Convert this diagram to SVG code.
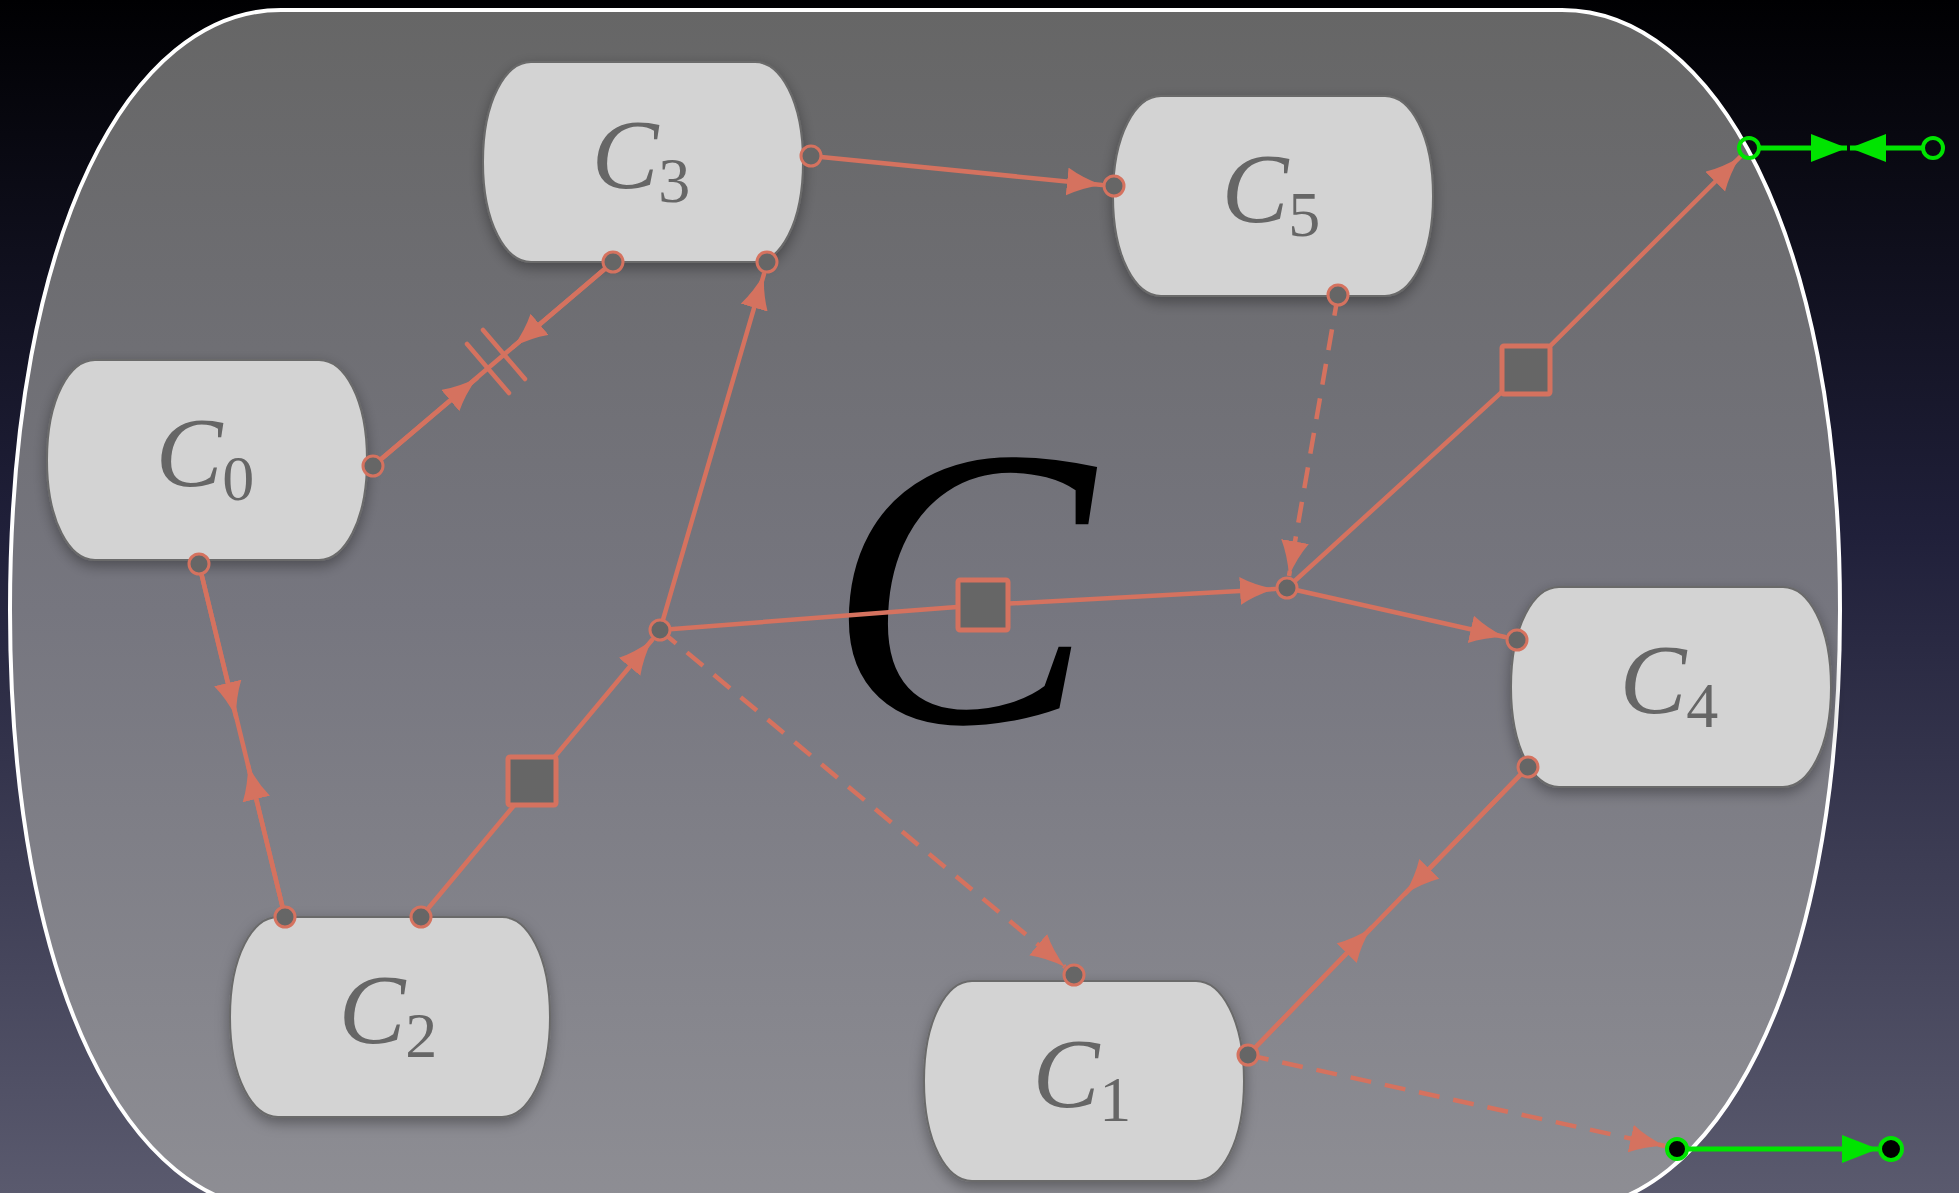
<svg xmlns="http://www.w3.org/2000/svg" xmlns:xlink="http://www.w3.org/1999/xlink" width="1959" height="1193" viewBox="0 0 1959 1193">
  <defs>
    <linearGradient id="bg" x1="0" y1="0" x2="0" y2="1">
      <stop offset="0" stop-color="#000002"/>
      <stop offset="0.45" stop-color="#20203a"/>
      <stop offset="1" stop-color="#5a5a6e"/>
    </linearGradient>
    <linearGradient id="frameFill" x1="0" y1="0" x2="0" y2="1">
      <stop offset="0" stop-color="#666666"/>
      <stop offset="0.5" stop-color="#76767f"/>
      <stop offset="1" stop-color="#8e8e94"/>
    </linearGradient>
    <filter id="shadow" x="-20%" y="-20%" width="140%" height="150%">
      <feDropShadow dx="0" dy="5" stdDeviation="7" flood-color="#000" flood-opacity="0.35"/>
    </filter>
    <!-- capsule-like component shape, centred on the origin -->
    <path id="cap" d="M-112,-100 H112 C137,-100 160,-62 160,0 C160,62 137,100 112,100 H-112 C-137,100 -160,62 -160,0 C-160,-62 -137,-100 -112,-100 Z"/>
    <marker id="ah" markerWidth="38" markerHeight="30" refX="35" refY="14" orient="auto" markerUnits="userSpaceOnUse">
      <path d="M0,0 Q15,9 35,14 Q15,19 0,28 Z" fill="#d5725f"/>
    </marker>
    <marker id="gh" markerWidth="38" markerHeight="30" refX="36" refY="14" orient="auto" markerUnits="userSpaceOnUse">
      <path d="M0,0 L36,14 L0,28 Z" fill="#00e400"/>
    </marker>
  </defs>
  <style>
    .node use { fill: #d3d3d3; stroke: #6a6a6a; stroke-width: 2; filter: url(#shadow); }
    .lbl { font-family: "Liberation Serif", "DejaVu Serif", serif; fill: #666666; font-size: 100px; }
    .lbl .c { font-style: italic; }
    .lbl .s { font-size: 64px; }
    .edge { fill: none; stroke: #d5725f; stroke-width: 4.5; stroke-linecap: round; }
    .dash { stroke-dasharray: 21 14; stroke-linecap: butt; }
    .arr { marker-end: url(#ah); }
    .port { fill: #666666; stroke: #d5725f; stroke-width: 3; }
    .sq { fill: #666666; stroke: #d5725f; stroke-width: 5; }
    .term { fill: none; stroke: #00e400; stroke-width: 4; }
    .gline { stroke: #00e400; stroke-width: 5; fill: none; marker-end: url(#gh); }
  </style>

  <rect width="1959" height="1193" fill="url(#bg)"/>

  <!-- enclosing composite C -->
  <g id="composite">
    <path d="M281,10 H1562 C1712,10 1840,230 1840,610 C1840,990 1712,1210 1562,1210 H281 C131,1210 10,990 10,610 C10,230 131,10 281,10 Z" fill="url(#frameFill)" stroke="#ffffff" stroke-width="4"/>
    <text x="960" y="722" text-anchor="middle" font-family="Liberation Serif, DejaVu Serif, serif" font-style="italic" font-size="400" fill="#000000">C</text>
  </g>

  <!-- components -->
  <g id="C3" class="node"><use href="#cap" x="643" y="162"/><text class="lbl" x="641" y="188" text-anchor="middle"><tspan class="c">C</tspan><tspan class="s" dy="14">3</tspan></text></g>
  <g id="C5" class="node"><use href="#cap" x="1273" y="196"/><text class="lbl" x="1271" y="222" text-anchor="middle"><tspan class="c">C</tspan><tspan class="s" dy="14">5</tspan></text></g>
  <g id="C0" class="node"><use href="#cap" x="207" y="460"/><text class="lbl" x="205" y="486" text-anchor="middle"><tspan class="c">C</tspan><tspan class="s" dy="14">0</tspan></text></g>
  <g id="C4" class="node"><use href="#cap" x="1671" y="687"/><text class="lbl" x="1669" y="713" text-anchor="middle"><tspan class="c">C</tspan><tspan class="s" dy="14">4</tspan></text></g>
  <g id="C2" class="node"><use href="#cap" x="390" y="1017"/><text class="lbl" x="388" y="1043" text-anchor="middle"><tspan class="c">C</tspan><tspan class="s" dy="14">2</tspan></text></g>
  <g id="C1" class="node"><use href="#cap" x="1084" y="1081"/><text class="lbl" x="1082" y="1107" text-anchor="middle"><tspan class="c">C</tspan><tspan class="s" dy="14">1</tspan></text></g>

  <!-- connectors -->
  <g id="connectors">
    <path class="edge arr" d="M811,156 L1102,185"/>
    <!-- C0 <-> C3 with break marks -->
    <path class="edge" d="M373,466 L613,262"/>
    <path class="edge arr" d="M373,466 L477,378"/>
    <path class="edge arr" d="M613,262 L513,347"/>
    <path class="edge" d="M467,344 L509,393 M483,330 L525,379"/>
    <!-- C0 <-> C2 -->
    <path class="edge" d="M199,564 L285,917"/>
    <path class="edge arr" d="M199,564 L236,717"/>
    <path class="edge arr" d="M285,917 L248,765"/>
    <!-- C4 <-> C1 -->
    <path class="edge" d="M1528,767 L1248,1055"/>
    <path class="edge arr" d="M1528,767 L1405,894"/>
    <path class="edge arr" d="M1248,1055 L1371,928"/>
    <path class="edge arr" d="M421,917 L652,640"/>
    <path class="edge arr" d="M660,630 L764,274"/>
    <path class="edge arr" d="M660,630 L983,605 L1275,589"/>
    <path class="edge dash arr" d="M660,630 L1065,967"/>
    <path class="edge dash arr" d="M1338,295 L1289,576"/>
    <path class="edge arr" d="M1287,588 L1505,637"/>
    <path class="edge arr" d="M1287,588 L1526,370 L1740,157"/>
    <path class="edge dash arr" d="M1248,1055 L1665,1146"/>
    <!-- external terminals -->
    <path class="gline" d="M1759,148 L1847,148"/>
    <path class="gline" d="M1923,148 L1850,148"/>
    <path class="gline" d="M1688,1149 L1878,1149"/>
  </g>

  <!-- relay boxes on connectors -->
  <g id="relays">
    <rect class="sq" x="958" y="580" width="50" height="50" rx="2"/>
    <rect class="sq" x="508" y="757" width="48" height="48" rx="2"/>
    <rect class="sq" x="1502" y="346" width="48" height="48" rx="2"/>
  </g>

  <!-- ports and junctions -->
  <g id="ports">
    <circle class="port" cx="811" cy="156" r="10"/>
    <circle class="port" cx="613" cy="262" r="10"/>
    <circle class="port" cx="767" cy="262" r="10"/>
    <circle class="port" cx="1114" cy="186" r="10"/>
    <circle class="port" cx="1338" cy="295" r="10"/>
    <circle class="port" cx="373" cy="466" r="10"/>
    <circle class="port" cx="199" cy="564" r="10"/>
    <circle class="port" cx="1517" cy="640" r="10"/>
    <circle class="port" cx="1528" cy="767" r="10"/>
    <circle class="port" cx="285" cy="917" r="10"/>
    <circle class="port" cx="421" cy="917" r="10"/>
    <circle class="port" cx="1074" cy="975" r="10"/>
    <circle class="port" cx="1248" cy="1055" r="10"/>
  </g>
  <g id="J1"><circle class="port" cx="660" cy="630" r="10"/></g>
  <g id="J2"><circle class="port" cx="1287" cy="588" r="10"/></g>

  <g id="terminals">
    <circle class="term" cx="1749" cy="148" r="10"/>
    <circle class="term" cx="1933" cy="148" r="10"/>
    <circle class="term" cx="1677" cy="1149" r="10" style="fill:#000"/>
    <circle class="term" cx="1891" cy="1149" r="11" style="fill:#000"/>
  </g>
</svg>
